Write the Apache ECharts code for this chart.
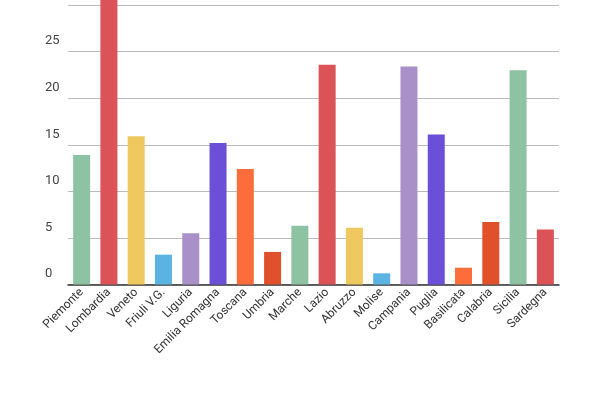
<head>
    <meta charset="utf-8">
    <script src="https://cdn.jsdelivr.net/npm/echarts@6/dist/echarts.min.js"></script>
</head>
<body style="margin:0">
    <div id="main" style="width:600px; height:400px;"></div>
    <script type="text/javascript">
        const regions = ['Piemonte', 'Lombardia', 'Veneto', 'Friuli V.G.', 'Liguria', 'Emilia Romagna', 'Toscana', 'Umbria', 'Marche', 'Lazio', 'Abruzzo', 'Molise', 'Campania', 'Puglia', 'Basilicata', 'Calabria', 'Sicilia', 'Sardegna']
        const values = [13.9, 33, 15.9, 3.2, 5.5, 15.2, 12.4, 3.5, 6.3, 23.6, 6.1, 1.2, 23.4, 16.1, 1.8, 6.7, 23.0, 5.9]
        const palette = ['#8dc3a2', '#db5356', '#f0c860', '#5bb3e4', '#a990c9', '#6c4fd7', '#fd6d3b', '#e0502b']

        var myChart = echarts.init(document.getElementById('main'));

        option = {
            animation: false,
            grid: { left: 68, right: 41, top: 5, bottom: 115.5, containLabel: false, outerBoundsMode: 'none' },
            xAxis: {
                type: 'category',
                data: regions,
                axisTick: { show: false },
                axisLine: { lineStyle: { color: '#333', width: 1.5 } },
                axisLabel: { rotate: 45, interval: 0, color: '#333', fontSize: 12, fontFamily: 'Roboto', margin: 6 }
            },
            yAxis: {
                type: 'value',
                min: 0, max: 30, interval: 5,
                axisLine: { show: false },
                axisTick: { show: false },
                splitLine: { lineStyle: { color: '#bbb' } },
                axisLabel: {
                    margin: 23, align: 'left', verticalAlign: 'bottom', padding: [0, 0, 4, 0],
                    color: '#444', fontSize: 13, fontFamily: 'Roboto',
                    formatter: v => v === 30 ? '' : v
                }
            },
            series: [{
                type: 'bar',
                barWidth: 17,
                clip: false,
                data: values.map((v, i) => ({ value: v, itemStyle: { color: palette[i % palette.length] } }))
            }]
        };
        myChart.setOption(option);
    </script>
</body>
